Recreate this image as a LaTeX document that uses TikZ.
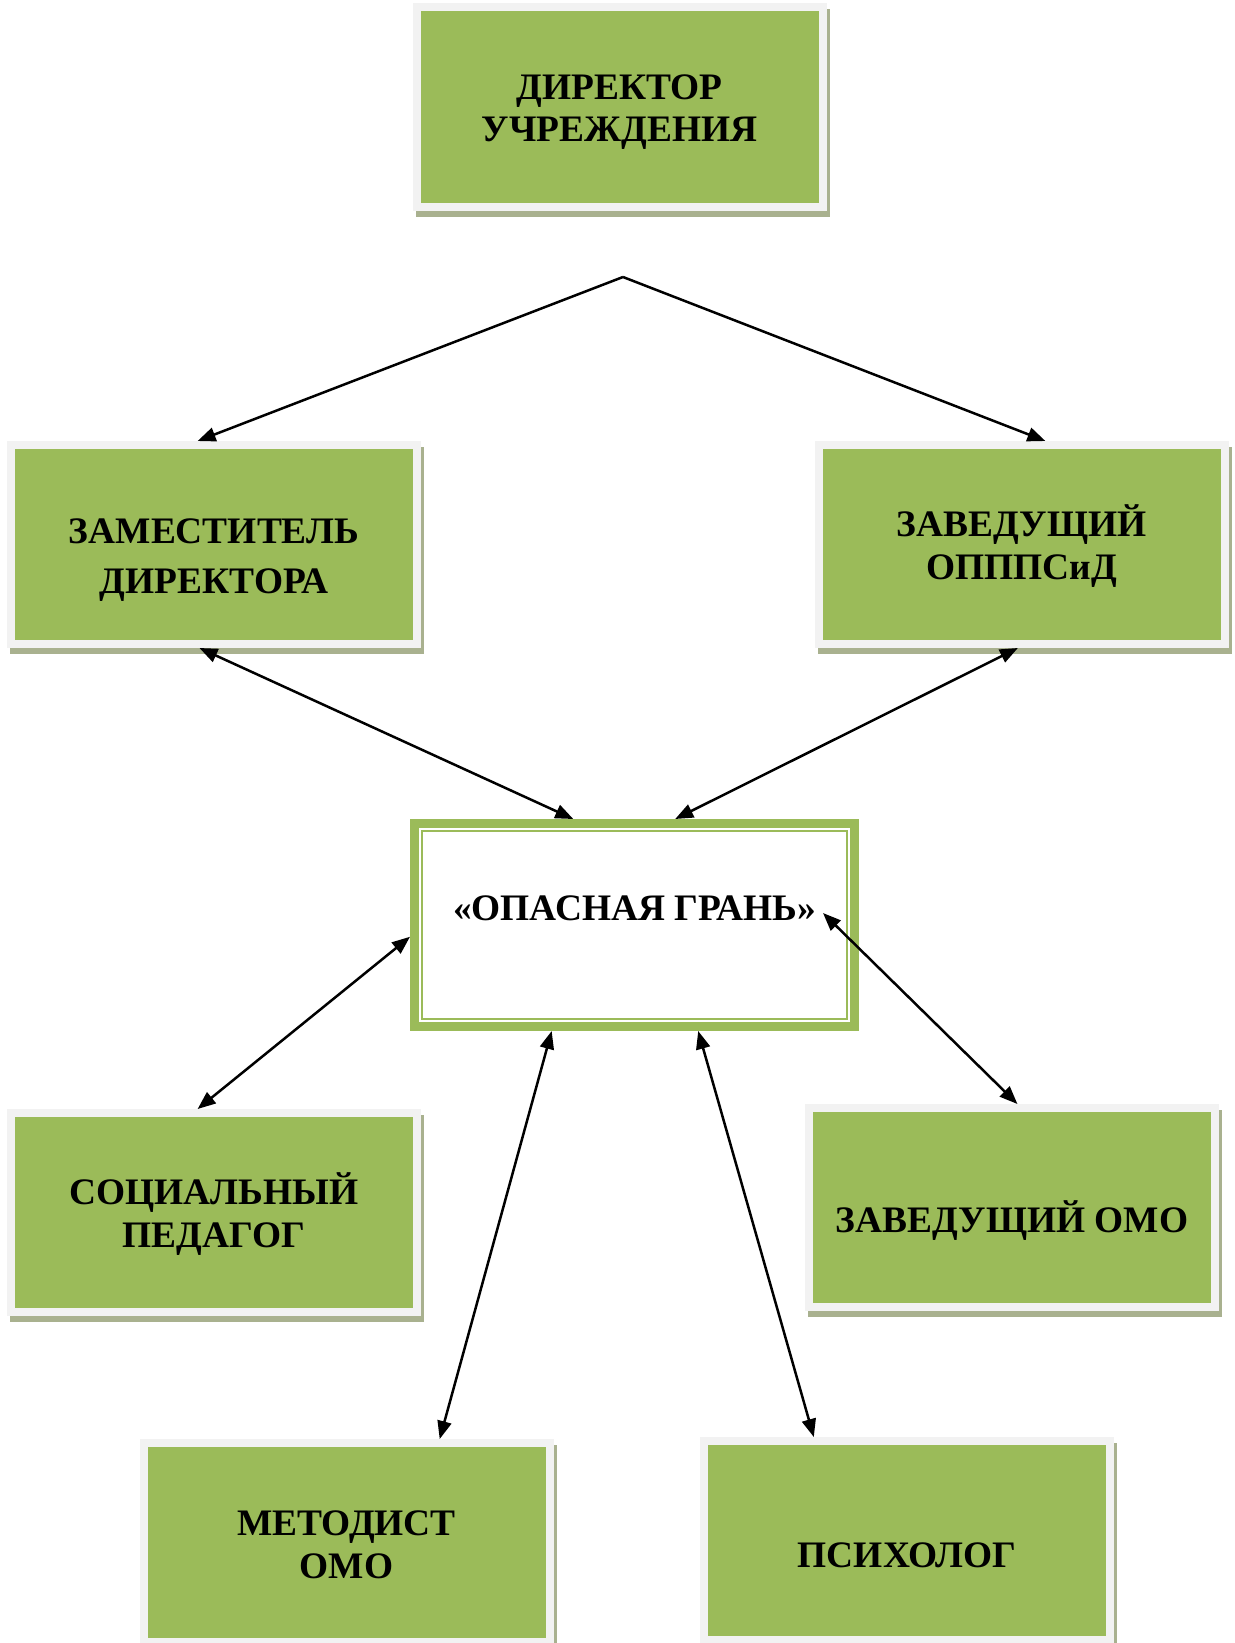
\documentclass[tikz,border=0pt]{standalone}
\usepackage{fontspec}
\setmainfont{Liberation Serif}
\usetikzlibrary{arrows.meta,shadows,calc}
\definecolor{ogreen}{HTML}{9BBB59}
\definecolor{olight}{HTML}{F2F2F2}
\definecolor{oshadow}{HTML}{A9B18F}
\tikzset{
  card/.style={rectangle, fill=ogreen, draw=olight, line width=4pt,
    minimum width=203pt, minimum height=99.5pt, inner sep=0pt,
    align=center, font=\bfseries\fontsize{18.7}{21.5}\selectfont,
    drop shadow={shadow xshift=1.5pt, shadow yshift=-3pt, fill=oshadow, draw=oshadow, opacity=1}},
  ring/.style={rectangle, fill=white, draw=ogreen, line width=4.5pt,
    minimum width=220pt, minimum height=101.5pt, inner sep=0pt,
    align=center, font=\bfseries\fontsize{18.7}{21.5}\selectfont},
  lift/.style={text height=0pt, text depth=#1},
  sink/.style={text height=#1, text depth=0pt},
  link/.style={line width=1.25pt, -{Triangle[length=9pt,width=7pt]}},
  twoway/.style={line width=1.25pt, {Triangle[length=9pt,width=7pt]}-{Triangle[length=9pt,width=7pt]}},
}
\begin{document}
\begin{tikzpicture}[x=0.5pt, y=-0.5pt]
  \useasboundingbox (0,0) rectangle (1235,1643);
  % boxes
  \node[card,sink=34.5pt]  (dir)  at (619.5,107)  {ДИРЕКТОР\\[-0.5pt]УЧРЕЖДЕНИЯ};
  \node[card,sink=48.9pt]  (zam)  at (214,544.5)  {ЗАМЕСТИТЕЛЬ\\[3.5pt]ДИРЕКТОРА};
  \node[card,sink=35.25pt] (zav)  at (1021.5,544.5) {ЗАВЕДУЩИЙ\\ОПППСиД};
  \node[ring,lift=5pt]     (grane) at (634.5,925) {«ОПАСНАЯ ГРАНЬ»};
  \draw[ogreen, line width=1pt] ($(grane.north west)+(12,12)$) rectangle ($(grane.south east)-(12,12)$);
  \node[card,sink=35.25pt] (soc)  at (214,1212.5) {СОЦИАЛЬНЫЙ\\ПЕДАГОГ};
  \node[card,sink=24.5pt]  (zomo) at (1012,1207.5) {ЗАВЕДУЩИЙ ОМО};
  \node[card,sink=35.75pt] (met)  at (346.5,1542.5) {МЕТОДИСТ\\ОМО};
  \node[card,sink=26.5pt]  (psy)  at (907,1540.5) {ПСИХОЛОГ};
  % connectors
  \coordinate (apex) at (623,277);
  \coordinate (graneR) at ($(grane.center)+(188.5,-12)$);
  \draw[link] (apex) -- (zam.99);
  \draw[link] (apex) -- (zav.77);
  \draw[twoway] (zam.262) -- (grane.120);
  \draw[twoway] (zav.268) -- (grane.69);
  \draw[twoway] (soc.99) -- (grane.183);
  \draw[twoway] (zomo.87) -- (graneR);
  \draw[twoway] (met.48) -- (grane.232);
  \draw[twoway] (psy.132) -- (grane.301);
\end{tikzpicture}
\end{document}
